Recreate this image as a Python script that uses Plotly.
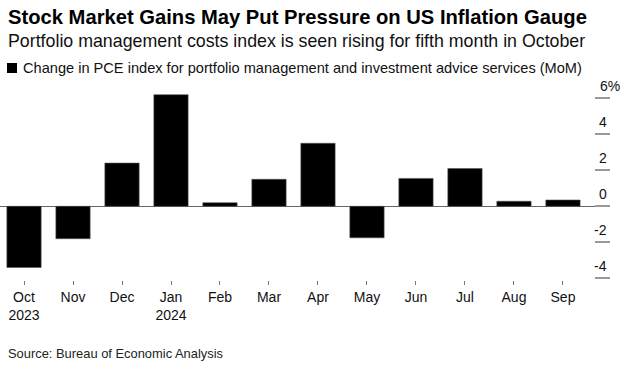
import plotly.graph_objects as go

months = ["Oct<br>2023", "Nov", "Dec", "Jan<br>2024", "Feb", "Mar", "Apr", "May", "Jun", "Jul", "Aug", "Sep"]
values = [-3.4, -1.8, 2.4, 6.2, 0.2, 1.5, 3.5, -1.75, 1.55, 2.1, 0.28, 0.35]
ytick_vals = [-4, -2, 0, 2, 4, 6]
ytick_text = ["-4", "-2", "0", "2", "4", "6%"]

title = "Stock Market Gains May Put Pressure on US Inflation Gauge"
subtitle = "Portfolio management costs index is seen rising for fifth month in October"
series_name = "Change in PCE index for portfolio management and investment advice services (MoM)"
source = "Source: Bureau of Economic Analysis"

FONT = "Liberation Sans, Arial, sans-serif"
x_idx = list(range(len(months)))

fig = go.Figure()
fig.add_trace(go.Bar(
    x=x_idx, y=values, name=series_name,
    marker=dict(color="#000000", line=dict(color="#555555", width=0.6)),
    showlegend=False,
))

fig.update_layout(
    width=634, height=366,
    margin=dict(l=0, r=24, t=90, b=86),
    paper_bgcolor="white", plot_bgcolor="white",
    bargap=0.3,
    font=dict(family=FONT, color="#000000", size=14),
    xaxis=dict(
        tickmode="array", tickvals=x_idx, ticktext=months,
        range=[-0.49, 11.96],
        ticks="outside", ticklen=4, tickwidth=1, tickcolor="#777777",
        showgrid=False, zeroline=False, showline=False,
        tickfont=dict(size=14, color="#111111"),
    ),
    yaxis=dict(
        side="right",
        range=[-4.094, 6.461],
        tickmode="array", tickvals=ytick_vals,
        ticks="inside", ticklen=15, tickwidth=1.5, tickcolor="#999999",
        showticklabels=False,
        showgrid=False, zeroline=True, zerolinecolor="#666666", zerolinewidth=1,
        showline=False,
    ),
)

for v, t in zip(ytick_vals, ytick_text):
    fig.add_annotation(
        x=1, xref="paper", y=v, yref="y", text=t, showarrow=False,
        xanchor="right", yanchor="middle", yshift=12,
        xshift=(12 if t.endswith("%") else -1),
        font=dict(size=14, color="#111111", family=FONT),
    )


def px_x(px):
    return px / 610.0


def px_y(py):
    return (366 - 86 - py) / 190.0


fig.add_annotation(x=px_x(6), xref="paper", y=px_y(17), yref="paper", text=f"<b>{title}</b>",
                   showarrow=False, xanchor="left", yanchor="middle",
                   font=dict(size=20.2, family=FONT, color="#000000"))
fig.add_annotation(x=px_x(6), xref="paper", y=px_y(41), yref="paper", text=subtitle,
                   showarrow=False, xanchor="left", yanchor="middle",
                   font=dict(size=17.8, family=FONT, color="#111111"))
fig.add_annotation(x=px_x(21), xref="paper", y=px_y(68), yref="paper", text=series_name,
                   showarrow=False, xanchor="left", yanchor="middle",
                   font=dict(size=14.6, family=FONT, color="#111111"))
fig.add_shape(type="rect", xref="paper", yref="paper",
              x0=px_x(7), x1=px_x(17), y0=px_y(63), y1=px_y(73),
              fillcolor="#000000", line=dict(width=0))
fig.add_annotation(x=px_x(6), xref="paper", y=px_y(353), yref="paper", text=source,
                   showarrow=False, xanchor="left", yanchor="middle",
                   font=dict(size=12.9, family=FONT, color="#222222"))

fig.write_html("out.html", config={"displayModeBar": False},
               post_script="document.body.style.margin='0';document.body.style.padding='0';")
